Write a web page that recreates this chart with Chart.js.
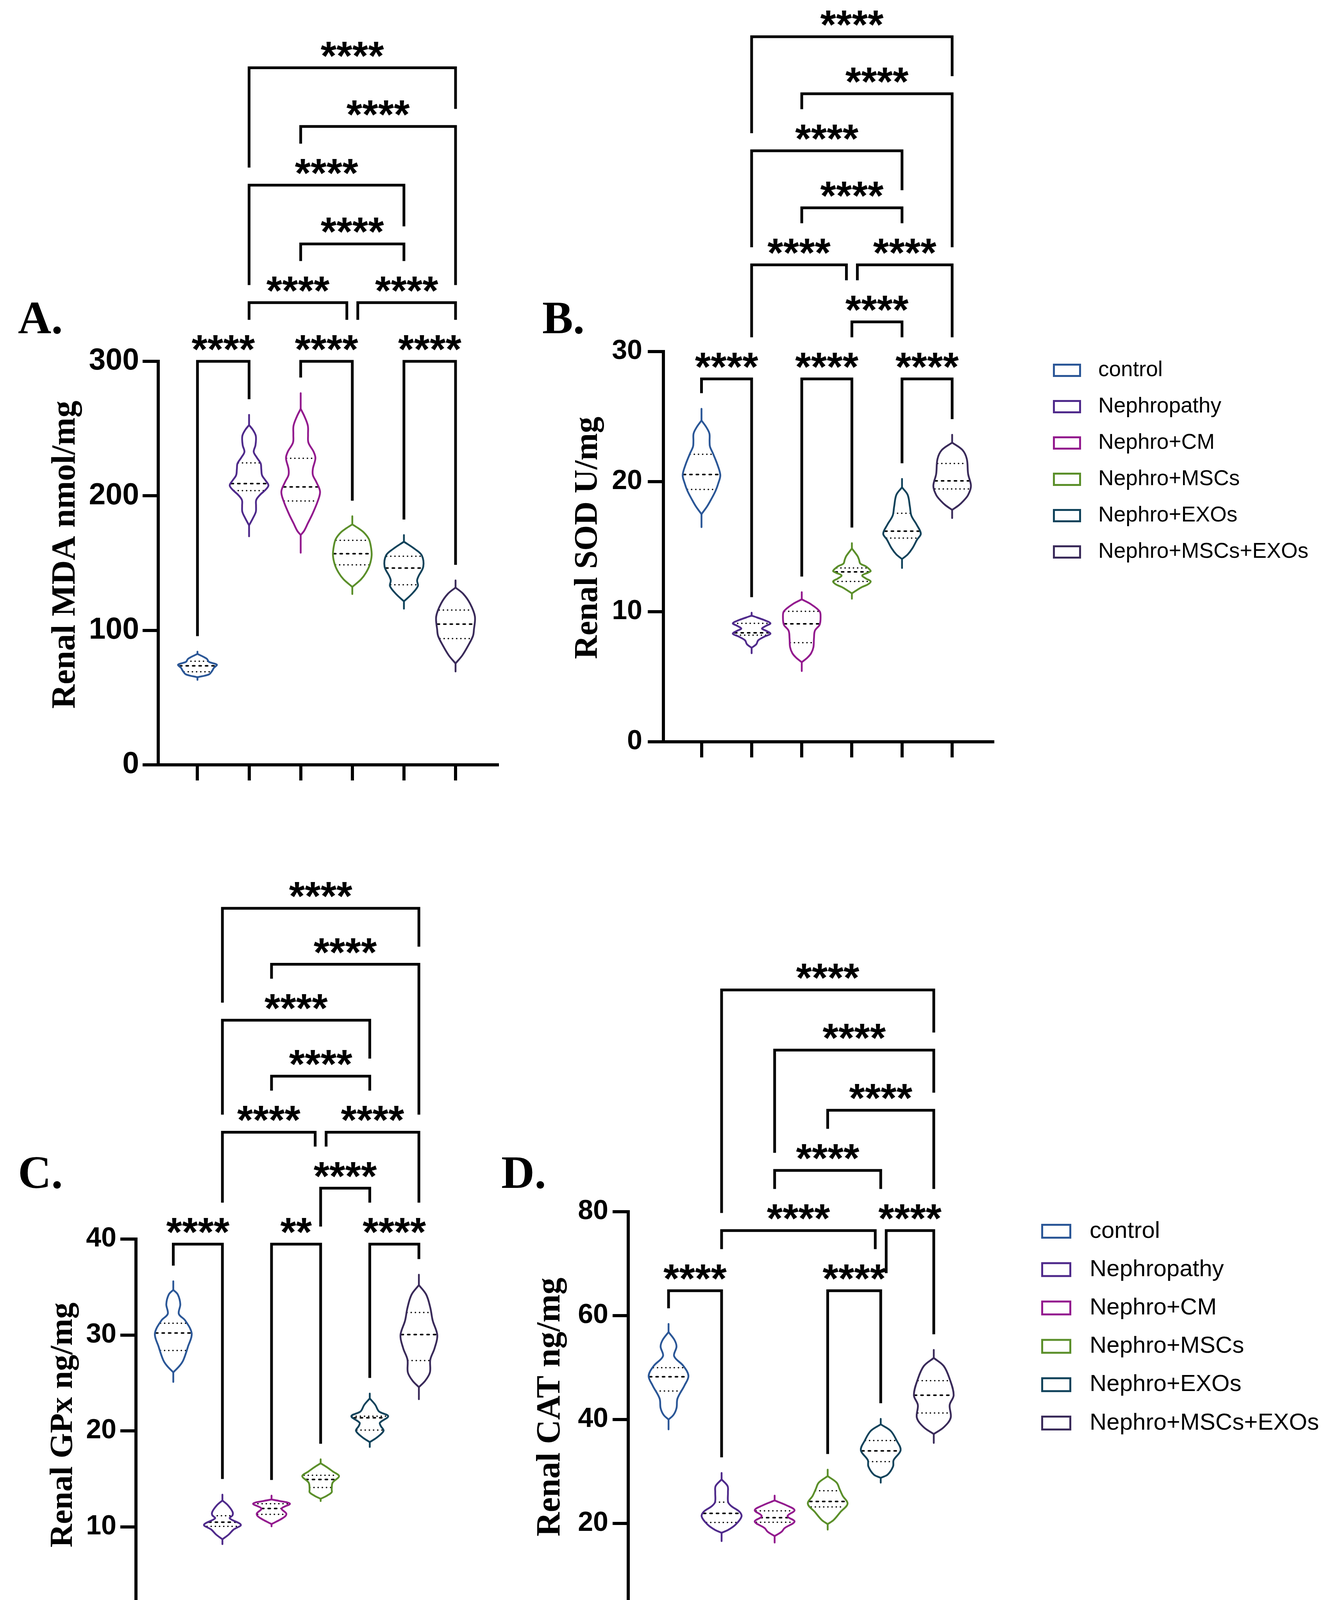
<!DOCTYPE html>
<html>
<head>
<meta charset="utf-8">
<script src="https://cdn.jsdelivr.net/npm/chart.js@4.4.1/dist/chart.umd.min.js"></script>
<style>
  html, body { margin: 0; padding: 0; background: #ffffff; }
  body { width: 3417px; height: 4246px; position: relative; overflow: hidden; }
  canvas { position: absolute; }
</style>
</head>
<body>
<canvas id="panelA" width="1300" height="2100" style="left:0px;top:0px;"></canvas>
<canvas id="panelB" width="2117" height="2100" style="left:1300px;top:0px;"></canvas>
<canvas id="panelC" width="1250" height="2096" style="left:0px;top:2150px;"></canvas>
<canvas id="panelD" width="2167" height="2096" style="left:1250px;top:2150px;"></canvas>
<script>
// ---------------- DATA ----------------
const groups = ['control', 'Nephropathy', 'Nephro+CM', 'Nephro+MSCs', 'Nephro+EXOs', 'Nephro+MSCs+EXOs'];
const groupColors = ['#2b5797', '#4f2a8b', '#931a8e', '#5b8f2a', '#11435b', '#3a2b5a'];

// Violin outlines: [value, relative density width] from lowest point to highest point
const mdaShapes = [
  [[63.2,0],[65.1,0],[67.3,0.6],[69.7,0.75],[72.1,0.85],[74.5,1],[76.5,0.6],[78.9,0.48],[82.5,0],[84.1,0]],
  [[169.9,0],[178.1,0],[183.4,0.2],[188.2,0.35],[192.5,0.36],[196.9,0.37],[200.8,0.57],[204.5,0.85],[207.8,1],[211.4,0.85],[215.3,0.67],[220,0.63],[224,0.6],[228.5,0.4],[232.7,0.24],[237.6,0.33],[244.4,0.35],[249,0.2],[252.6,0],[260.2,0]],
  [[157.7,0],[170.9,0],[173.8,0.17],[179.6,0.37],[186.3,0.6],[196,0.88],[203.2,1],[210.5,0.8],[215.4,0.63],[220.2,0.63],[227.9,0.76],[232.7,0.67],[239.5,0.4],[245.5,0.38],[252.1,0.37],[258.9,0.2],[264.7,0],[276.3,0]],
  [[127,0],[132.3,0],[137.9,0.45],[142.7,0.7],[148.7,0.9],[155.9,1],[163,0.95],[168,0.85],[172.7,0.6],[176,0.3],[178.8,0],[184.8,0]],
  [[116.1,0],[121.6,0],[126.9,0.4],[132.9,0.72],[137,0.68],[140.1,0.75],[147.4,1],[155.8,0.92],[160.6,0.55],[165.9,0],[170.8,0]],
  [[69.4,0],[75.4,0],[81.4,0.35],[88.6,0.65],[95.8,0.9],[100.6,0.95],[110.3,1],[119.9,0.75],[127.1,0.4],[131.8,0],[137.1,0]]
];
const mdaMedian = [73.6, 209.1, 206.6, 157.0, 146.3, 104.6];
const mdaQ3 = [77.0, 224.5, 227.9, 166.9, 155.1, 115.1];
const mdaQ1 = [69.2, 203.9, 196.2, 148.7, 133.9, 93.9];
const mdaTicks = [0, 100, 200, 300];
const mdaComparisons = [[1,2,'****',1],[3,4,'****',1],[5,6,'****',1],[2,4,'****',2],[4,6,'****',2],[3,5,'****',3],[2,5,'****',4],[3,6,'****',5],[2,6,'****',6]];

const sodShapes = [
  [[16.5,0],[17.5,0],[18.1,0.3],[18.6,0.5],[19.3,0.75],[19.9,0.9],[20.5,1],[21.3,0.85],[22.2,0.6],[22.7,0.45],[23.1,0.43],[23.7,0.42],[24.2,0.25],[24.7,0],[25.6,0]],
  [[6.81,0],[7.23,0],[7.5,0.25],[7.8,0.35],[8.1,0.7],[8.31,1],[8.55,0.75],[8.7,0.55],[8.9,0.75],[9.11,1],[9.34,0.7],[9.55,0.3],[9.7,0],[9.92,0]],
  [[5.44,0],[6.12,0],[6.47,0.3],[6.81,0.5],[7.27,0.62],[7.96,0.65],[8.54,0.7],[9.0,0.95],[9.57,1],[10.03,0.95],[10.61,0.45],[10.95,0],[11.5,0]],
  [[11.0,0],[11.41,0],[11.87,0.5],[12.1,0.85],[12.33,1],[12.55,0.75],[12.79,0.55],[13.0,0.85],[13.13,1],[13.48,0.75],[13.7,0.45],[14.0,0.38],[14.28,0.3],[14.86,0],[15.27,0]],
  [[13.36,0],[14.05,0],[14.4,0.3],[14.87,0.55],[15.54,0.8],[16.0,1],[16.69,0.78],[17.38,0.5],[18.07,0.42],[18.99,0.3],[19.56,0],[20.21,0]],
  [[17.2,0],[17.83,0],[18.18,0.35],[18.52,0.6],[18.98,0.85],[19.67,1],[20.59,0.85],[21.74,0.78],[22.43,0.55],[23.0,0],[23.6,0]]
];
const sodMedian = [20.55, 8.38, 9.07, 13.06, 16.19, 20.06];
const sodQ3 = [22.1, 9.11, 10.03, 13.36, 17.57, 21.4];
const sodQ1 = [19.4, 8.2, 7.62, 12.33, 15.66, 19.44];
const sodTicks = [0, 10, 20, 30];
const sodComparisons = [[1,2,'****',1],[3,4,'****',1],[5,6,'****',1],[4,5,'****',2],[2,4,'****',3],[4,6,'****',3],[3,5,'****',4],[2,5,'****',5],[3,6,'****',6],[2,6,'****',7]];

const gpxShapes = [
  [[25.1,0],[26.1,0],[26.8,0.35],[27.4,0.55],[28.8,0.8],[30.14,1],[31.5,0.65],[32.2,0.3],[33.2,0.38],[34.2,0.25],[34.7,0],[35.6,0]],
  [[8.19,0],[8.69,0],[9.2,0.35],[9.7,0.6],[10.21,1],[10.88,0.4],[11.2,0.55],[11.56,0.55],[12.24,0.3],[12.74,0],[13.35,0]],
  [[10.04,0],[10.28,0],[10.72,0.45],[11.1,0.75],[11.39,0.8],[11.9,0.55],[12.4,1],[12.7,0.4],[12.84,0],[13.25,0]],
  [[12.68,0],[12.91,0],[13.25,0.35],[13.6,0.6],[13.92,0.6],[14.6,0.65],[15.27,1],[15.78,0.65],[16.2,0.35],[16.62,0],[17.03,0]],
  [[18.32,0],[18.83,0],[19.33,0.4],[20.01,0.75],[20.5,0.6],[20.85,0.55],[21.53,1],[22.03,0.5],[22.71,0.3],[23.38,0],[23.89,0]],
  [[23.3,0],[24.56,0],[25.24,0.35],[26.1,0.6],[27.43,0.62],[28.6,0.85],[29.96,1],[31.5,0.75],[32.84,0.62],[34.2,0.4],[35.2,0],[36.28,0]]
];
const gpxMedian = [30.2, 10.48, 11.9, 14.93, 21.36, 30.04];
const gpxQ3 = [31.22, 11.15, 12.4, 15.37, 21.53, 32.34];
const gpxQ1 = [28.38, 10.04, 11.29, 14.09, 20.08, 27.33];
const gpxTicks = [0, 10, 20, 30, 40];
const gpxComparisons = [[1,2,'****',1],[3,4,'**',1],[5,6,'****',1],[4,5,'****',2],[2,4,'****',3],[4,6,'****',3],[3,5,'****',4],[2,5,'****',5],[3,6,'****',6],[2,6,'****',7]];

const catShapes = [
  [[38.1,0],[40.0,0],[40.9,0.25],[42.2,0.4],[44.05,0.45],[46.55,0.8],[48.4,1],[50.3,0.75],[52.2,0.28],[54.03,0.4],[55.3,0.3],[56.83,0],[58.4,0]],
  [[16.6,0],[18.2,0],[18.8,0.35],[19.76,0.7],[21.3,1],[22.24,0.9],[23.3,0.5],[24.1,0.33],[25.97,0.32],[27.2,0.3],[28.47,0],[29.72,0]],
  [[16.32,0],[17.57,0],[18.4,0.35],[19.1,0.5],[20.36,1],[21.4,0.65],[22.54,1],[23.48,0.6],[24.42,0],[25.35,0]],
  [[18.81,0],[19.87,0],[20.67,0.3],[22.24,0.65],[23.79,1],[25.35,0.75],[26.6,0.6],[27.85,0.45],[29.1,0],[30.35,0]],
  [[27.85,0],[28.78,0],[29.41,0.35],[30.97,0.62],[32.2,0.65],[34.09,1],[35.96,0.8],[37.82,0.5],[39.07,0],[40.13,0]],
  [[35.5,0],[37.21,0],[38.5,0.5],[40.33,0.85],[42.8,0.8],[44.7,1],[47.8,0.8],[50.3,0.5],[51.85,0],[53.4,0]]
];
const catMedian = [48.23, 21.93, 21.1, 24.23, 33.96, 44.68];
const catQ3 = [49.98, 24.1, 22.42, 26.29, 35.96, 47.49];
const catQ1 = [45.49, 20.19, 20.23, 23.17, 31.9, 41.26];
const catTicks = [0, 20, 40, 60, 80];
const catComparisons = [[1,2,'****',1],[4,5,'****',1],[2,5,'****',2],[5,6,'****',2],[3,5,'****',3],[4,6,'****',4],[3,6,'****',5],[2,6,'****',6]];

const axisTitles = ['Renal MDA nmol/mg', 'Renal SOD U/mg', 'Renal GPx ng/mg', 'Renal CAT ng/mg'];
const panelLetters = ['A.', 'B.', 'C.', 'D.'];

// ---------------- LAYOUT / STYLE ----------------
const HALF_WIDTH = 0.375;
const SANS = '"Liberation Sans", Arial, Helvetica, sans-serif';
const SERIF = '"Liberation Serif", "Times New Roman", Times, serif';

function widthAt(shape, v) {
  for (let i = 0; i < shape.length - 1; i++) {
    const [v0, w0] = shape[i], [v1, w1] = shape[i + 1];
    if (v >= v0 && v <= v1) return v1 === v0 ? Math.max(w0, w1) : w0 + (w1 - w0) * (v - v0) / (v1 - v0);
  }
  return 0;
}

function buildDatasets(shapes, medians, q1s, q3s) {
  const ds = [];
  shapes.forEach((shape, i) => {
    const g = i + 1, color = groupColors[i], n = shape.length;
    const inner = shape.slice(1, n - 1);
    const outline = { borderColor: color, borderWidth: 4.6, pointRadius: 0, pointHoverRadius: 0, fill: false,
                      tension: 0.35, borderJoinStyle: 'round', borderCapStyle: 'round' };
    ds.push(Object.assign({}, outline, { label: groups[i], data: inner.map(([v, w]) => ({ x: g + w * HALF_WIDTH, y: v })) }));
    ds.push(Object.assign({}, outline, { label: groups[i], data: inner.map(([v, w]) => ({ x: g - w * HALF_WIDTH, y: v })) }));
    ds.push(Object.assign({}, outline, { tension: 0, data: [
      { x: g, y: shape[0][0] }, { x: g, y: shape[1][0] }, { x: g, y: null },
      { x: g, y: shape[n - 2][0] }, { x: g, y: shape[n - 1][0] }] }));
    const seg = (v) => { const w = widthAt(shape, v) * HALF_WIDTH * 0.97; return [{ x: g - w, y: v }, { x: g + w, y: v }]; };
    ds.push({ borderColor: '#000', borderWidth: 4, borderDash: [5.5, 11], borderCapStyle: 'round',
              pointRadius: 0, pointHoverRadius: 0, fill: false, tension: 0, data: seg(medians[i]) });
    ds.push({ borderColor: '#000', borderWidth: 3.5, borderDash: [0.5, 10.2], borderCapStyle: 'round',
              pointRadius: 0, pointHoverRadius: 0, fill: false, tension: 0,
              data: seg(q3s[i]).concat([{ x: g, y: null }], seg(q1s[i])) });
  });
  return ds;
}

function decorPlugin(p) {
  return {
    id: 'decor',
    afterDraw(chart) {
      const ctx = chart.ctx, xs = chart.scales.x, ys = chart.scales.y;
      ctx.save();
      // panel letter
      ctx.fillStyle = '#000';
      ctx.font = 'bold 118px ' + SERIF;
      ctx.textAlign = 'left';
      ctx.textBaseline = 'alphabetic';
      ctx.fillText(p.letter, p.letterX, p.letterY);

      // y-axis title (rotated)
      ctx.save();
      ctx.translate(p.titleX, p.titleY);
      ctx.rotate(-Math.PI / 2);
      ctx.font = 'bold ' + p.titleSize + 'px ' + SERIF;
      ctx.textAlign = 'center';
      ctx.textBaseline = 'alphabetic';
      ctx.fillText(p.title, 0, 0);
      ctx.restore();

      // significance brackets
      const y1 = ys.getPixelForValue(p.bracketBase);
      ctx.font = 'bold ' + p.starSize + 'px ' + SANS;
      const br = p.comparisons.map(([a, b, label, level]) => ({
        a, b, label, level, y: y1 - (level - 1) * p.bracketStep,
        xa: xs.getPixelForValue(a), xb: xs.getPixelForValue(b) }));
      br.forEach(u => br.forEach(v => {
        if (u !== v && u.level === v.level && u.b === v.a) { u.xb -= 14; v.xa += 14; }
      }));
      br.forEach(u => { u.tx = (u.xa + u.xb) / 2; u.hw = ctx.measureText(u.label).width / 2; });
      const textTop = 0.59 * p.starSize;
      const legEnd = (u, x, g) => {
        const shape = p.shapes[g - 1];
        let end = ys.getPixelForValue(shape[shape.length - 1][0]) - 40;
        br.forEach(v => {
          if (v.level >= u.level) return;
          if (x >= v.xa - 20 && x <= v.xb + 20) end = Math.min(end, v.y - 45);
          if (Math.abs(x - v.tx) <= v.hw) end = Math.min(end, v.y - textTop - 45);
        });
        return end;
      };
      ctx.strokeStyle = '#000';
      ctx.lineWidth = 7;
      ctx.lineCap = 'butt';
      ctx.lineJoin = 'miter';
      ctx.textAlign = 'center';
      ctx.textBaseline = 'alphabetic';
      br.forEach(u => {
        ctx.beginPath();
        ctx.moveTo(u.xa, legEnd(u, u.xa, u.a));
        ctx.lineTo(u.xa, u.y);
        ctx.lineTo(u.xb, u.y);
        ctx.lineTo(u.xb, legEnd(u, u.xb, u.b));
        ctx.stroke();
        ctx.fillText(u.label, u.tx, u.y + 0.135 * p.starSize - 9);
      });

      // legend
      const L = p.legend;
      if (L) {
        ctx.font = L.font + 'px ' + SANS;
        ctx.textAlign = 'left';
        ctx.textBaseline = 'middle';
        groups.forEach((name, i) => {
          const cy = L.y0 + i * L.dy;
          ctx.strokeStyle = groupColors[i];
          ctx.lineWidth = 5;
          ctx.strokeRect(L.x + 2.5, cy - L.boxH / 2 + 2.5, L.boxW - 5, L.boxH - 5);
          ctx.fillStyle = '#000';
          ctx.fillText(name, L.textX, cy);
        });
      }
      ctx.restore();
    }
  };
}

function makePanel(id, p) {
  const ticksArr = p.ticks;
  return new Chart(document.getElementById(id), {
    type: 'line',
    data: { datasets: buildDatasets(p.shapes, p.median, p.q1, p.q3) },
    options: {
      responsive: false,
      animation: false,
      devicePixelRatio: 1,
      events: [],
      layout: { autoPadding: false, padding: p.padding },
      plugins: { legend: { display: false }, tooltip: { enabled: false }, title: { display: false } },
      scales: {
        x: {
          type: 'linear', min: 0.24, max: 6.81,
          afterBuildTicks: (s) => { s.ticks = groups.map((_, i) => ({ value: i + 1 })); },
          afterFit: (s) => { s.height = 60; },
          ticks: { display: false },
          grid: { drawOnChartArea: false, drawTicks: true, tickLength: 40, lineWidth: 8, tickWidth: 8, color: '#000' },
          border: { display: true, color: '#000', width: 8 }
        },
        y: {
          type: 'linear', min: ticksArr[0], max: ticksArr[ticksArr.length - 1],
          afterBuildTicks: (s) => { s.ticks = ticksArr.map(v => ({ value: v })); },
          afterFit: (s) => { s.width = p.yAxisWidth; },
          ticks: { color: '#000', padding: p.tickPad, font: { family: SANS, weight: 'bold', size: p.tickSize } },
          grid: { drawOnChartArea: false, drawTicks: true, tickLength: 40, lineWidth: 8, tickWidth: 8, color: '#000' },
          border: { display: true, color: '#000', width: 8 },
          title: { display: false }
        }
      }
    },
    plugins: [decorPlugin(p)]
  });
}

makePanel('panelA', {
  shapes: mdaShapes, median: mdaMedian, q1: mdaQ1, q3: mdaQ3, ticks: mdaTicks, comparisons: mdaComparisons,
  title: axisTitles[0], titleX: 191, titleY: 1420, titleSize: 86,
  letter: panelLetters[0], letterX: 46, letterY: 853,
  padding: { left: 0, top: 925, right: 27, bottom: 82 }, yAxisWidth: 405, tickPad: 9, tickSize: 77,
  bracketBase: 300, bracketStep: 150.3, starSize: 104, legend: null
});
makePanel('panelB', {
  shapes: sodShapes, median: sodMedian, q1: sodQ1, q3: sodQ3, ticks: sodTicks, comparisons: sodComparisons,
  title: axisTitles[1], titleX: 228, titleY: 1377, titleSize: 84,
  letter: panelLetters[1], letterX: 88, letterY: 853,
  padding: { left: 0, top: 900, right: 876, bottom: 141 }, yAxisWidth: 398, tickPad: 14, tickSize: 70,
  bracketBase: 27.9, bracketStep: 146, starSize: 104,
  legend: { x: 1395, y0: 948, dy: 93, boxW: 72, boxH: 34, textX: 1511, font: 55 }
});
makePanel('panelC', {
  shapes: gpxShapes, median: gpxMedian, q1: gpxQ1, q3: gpxQ3, ticks: gpxTicks, comparisons: gpxComparisons,
  title: axisTitles[2], titleX: 184, titleY: 1498, titleSize: 83,
  letter: panelLetters[2], letterX: 46, letterY: 891,
  padding: { left: 0, top: 1022, right: 76, bottom: 32 }, yAxisWidth: 348, tickPad: 10, tickSize: 70,
  bracketBase: 39.47, bracketStep: 143.3, starSize: 104, legend: null
});
makePanel('panelD', {
  shapes: catShapes, median: catMedian, q1: catQ1, q3: catQ3, ticks: catTicks, comparisons: catComparisons,
  title: axisTitles[3], titleX: 182, titleY: 1452, titleSize: 86,
  letter: panelLetters[3], letterX: 33, letterY: 891,
  padding: { left: 0, top: 952, right: 917, bottom: 20 }, yAxisWidth: 358, tickPad: 11, tickSize: 70,
  bracketBase: 64.8, bracketStep: 154, starSize: 104,
  legend: { x: 1415, y0: 1002, dy: 98.2, boxW: 77, boxH: 38, textX: 1539, font: 60 }
});
</script>
</body>
</html>
